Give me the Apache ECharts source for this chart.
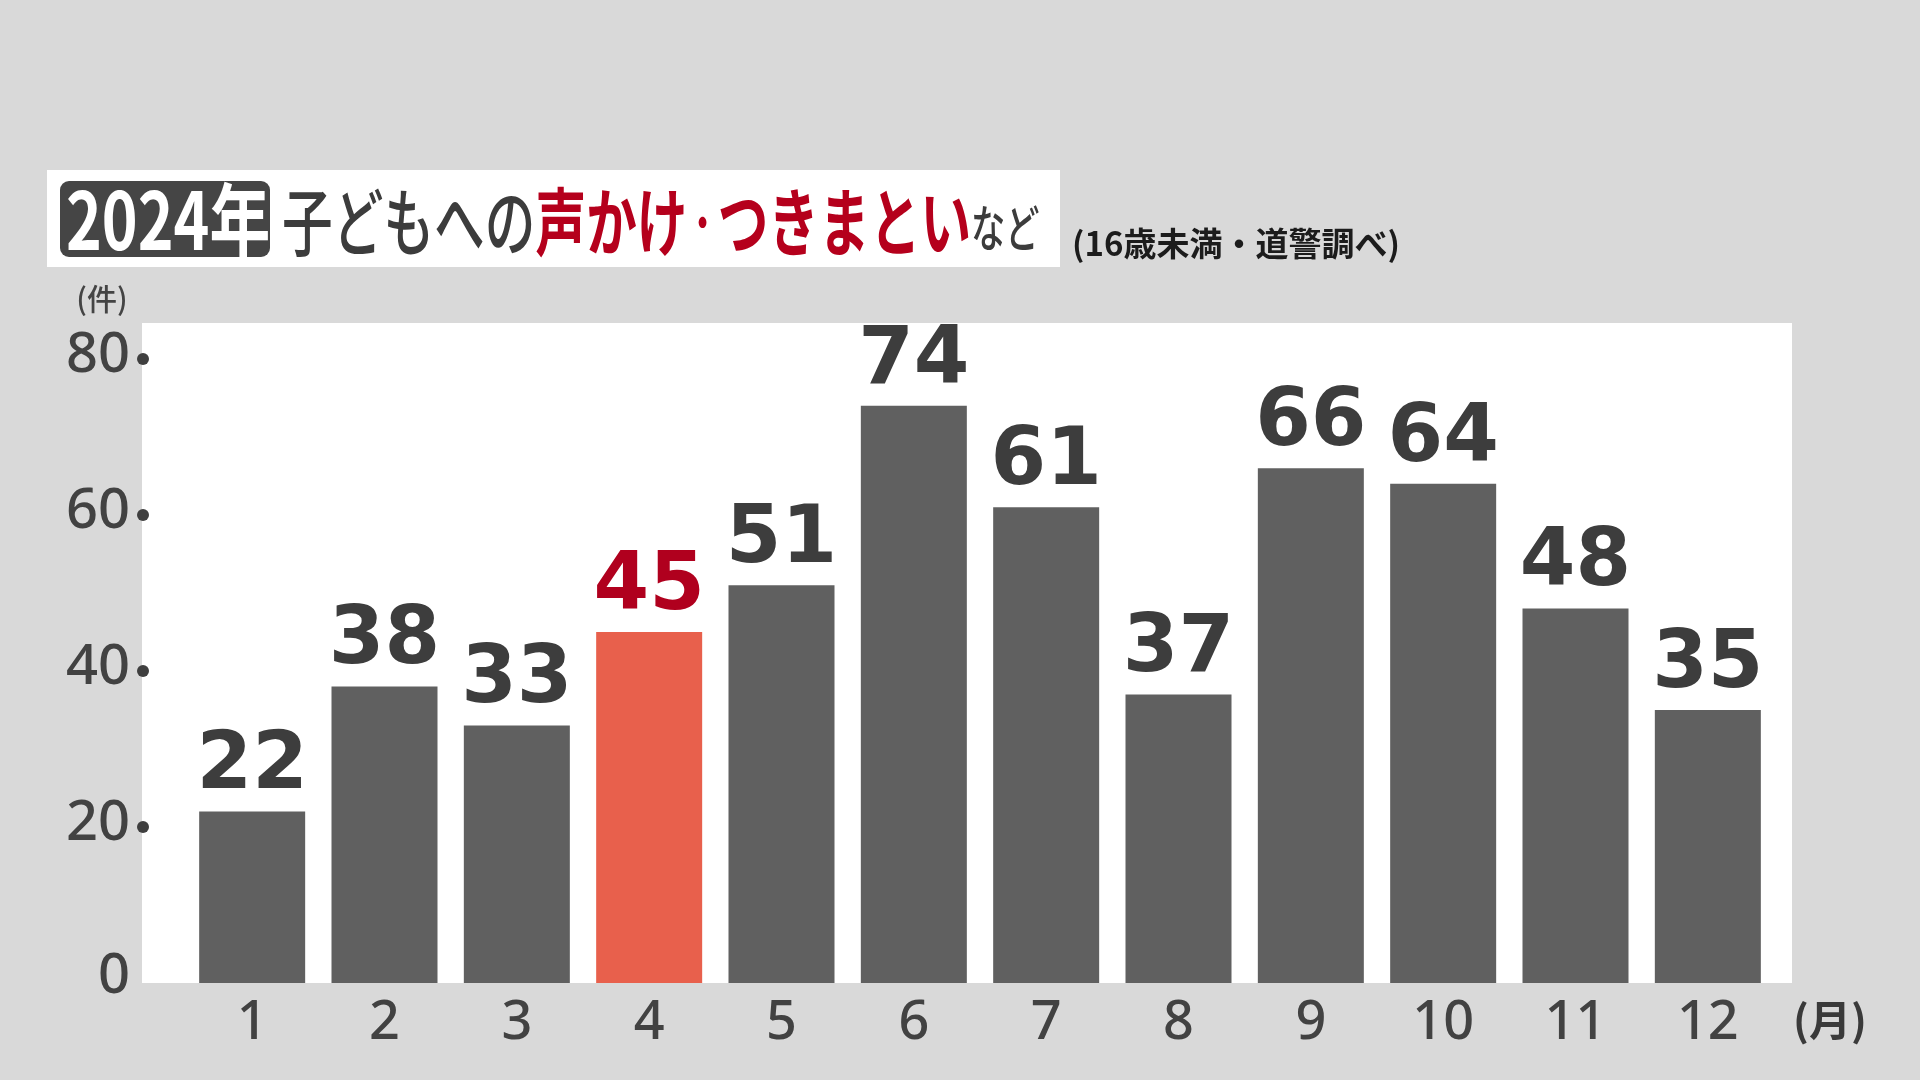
<!DOCTYPE html>
<html>
<head>
<meta charset="utf-8">
<script src="https://cdn.jsdelivr.net/npm/echarts@6/dist/echarts.min.js"></script>
<style>
html,body{margin:0;padding:0;background:#d9d9d9;}
#chart{width:1920px;height:1080px;}
</style>
</head>
<body>
<div id="chart"></div>
<script>
// ---- data ----
const months = ['1','2','3','4','5','6','7','8','9','10','11','12'];
const counts = [22, 38, 33, 45, 51, 74, 61, 37, 66, 64, 48, 35];
const highlightMonth = '4';
const yTicks = [0, 20, 40, 60, 80];
const titleYear = '2024年';
const titleLead = '子どもへの';
const titleKeyA = '声かけ';
const titleDot = '・';
const titleKeyB = 'つきまとい';
const titleTail = 'など';
const sourceNote = '(16歳未満・道警調べ)';
const yUnit = '(件)';
const xUnit = '(月)';

// ---- styles ----
const GRAY_BAR = '#606060';
const HI_BAR = '#e8604c';
const LABEL_DARK = '#3d3d3d';
const LABEL_RED = '#b0001e';
const AXIS_TEXT = '#424242';
const CJK = '"Noto Sans CJK JP", "Noto Sans", sans-serif';

const chart = echarts.init(document.getElementById('chart'), null, {renderer: 'canvas'});

const seriesData = counts.map((v, i) => {
  const isHi = months[i] === highlightMonth;
  return {
    value: v,
    itemStyle: {color: isHi ? HI_BAR : GRAY_BAR},
    label: {color: isHi ? LABEL_RED : LABEL_DARK}
  };
});

const option = {
  backgroundColor: '#d9d9d9',
  animation: false,
  grid: {left: 186, right: 146, top: 359, bottom: 97, containLabel: false},
  xAxis: {
    type: 'category',
    data: months,
    axisLine: {show: false},
    axisTick: {show: false},
    axisLabel: {
      fontSize: 54, lineHeight: 54, color: AXIS_TEXT, margin: 14,
      fontFamily: '"Noto Sans", sans-serif', fontWeight: 500
    },
    name: xUnit,
    nameLocation: 'end',
    nameGap: 19,
    nameTextStyle: {
      fontSize: 42, lineHeight: 42, color: '#3a3a3a', fontWeight: 'bold',
      fontFamily: CJK, verticalAlign: 'top', align: 'left', padding: [16, 0, 0, 0]
    }
  },
  yAxis: {
    type: 'value',
    min: yTicks[0],
    max: yTicks[yTicks.length - 1],
    interval: yTicks[1] - yTicks[0],
    axisLine: {show: false},
    axisTick: {show: false},
    splitLine: {show: false},
    axisLabel: {
      margin: 37,
      formatter: v => v === 0 ? `{z|${v}}{s|}{e|}` : `{v|${v}}{s|}{d|}`,
      rich: {
        v: {fontSize: 56, color: AXIS_TEXT, fontFamily: '"Noto Sans", sans-serif', fontWeight: 500, padding: [0, 0, 6, 0]},
        z: {fontSize: 56, color: AXIS_TEXT, fontFamily: '"Noto Sans", sans-serif', fontWeight: 500, padding: [0, 0, 12, 0]},
        s: {width: 7, height: 12},
        d: {width: 12, height: 12, backgroundColor: '#3f3f3f', borderRadius: 6},
        e: {width: 12, height: 12}
      }
    }
  },
  series: [{
    type: 'bar',
    data: seriesData,
    barWidth: 106,
    z: 5,
    label: {
      show: true,
      position: 'top',
      distance: 4,
      fontSize: 80,
      fontWeight: 'bold',
      fontFamily: '"DejaVu Sans", sans-serif',
      color: LABEL_DARK
    }
  }],
  graphic: [
    {type: 'rect', z: -10, silent: true,
     shape: {x: 142, y: 323, width: 1650, height: 660},
     style: {fill: '#ffffff'}},
    {type: 'rect', z: 1, silent: true,
     shape: {x: 47, y: 170, width: 1013, height: 97},
     style: {fill: '#ffffff'}},
    {type: 'rect', z: 2, silent: true,
     shape: {x: 60, y: 181, width: 210, height: 76, r: 9},
     style: {fill: '#454545'}},
    {type: 'text', z: 3, silent: true,
     x: 66, y: 220, scaleX: 0.76, scaleY: 1,
     style: {x: 0, y: 0, text: titleYear, fill: '#ffffff',
             font: 'bold 80px ' + CJK,
             align: 'left', verticalAlign: 'middle',
             textAlign: 'left', textVerticalAlign: 'middle'}},
    {type: 'text', z: 3, silent: true,
     x: 282, y: 222, scaleX: 0.685, scaleY: 1,
     style: {x: 0, y: 0,
             text: `{a|${titleLead}}{b|${titleKeyA}}{p|${titleDot}}{b|${titleKeyB}}{c|${titleTail}}`,
             align: 'left', verticalAlign: 'middle',
             textAlign: 'left', textVerticalAlign: 'middle',
             rich: {
               a: {fontSize: 74, fontWeight: 500, fontFamily: CJK, fill: '#3c3c3c', color: '#3c3c3c'},
               b: {fontSize: 74, fontWeight: 700, fontFamily: CJK, fill: '#b5001c', color: '#b5001c'},
               p: {fontSize: 44, fontWeight: 700, fontFamily: CJK, fill: '#b5001c', color: '#b5001c'},
               c: {fontSize: 50, fontWeight: 500, fontFamily: CJK, fill: '#3c3c3c', color: '#3c3c3c', verticalAlign: 'bottom', padding: [0, 0, 6, 0]}
             }}},
    {type: 'text', z: 3, silent: true,
     x: 1072, y: 243,
     style: {x: 0, y: 0, text: sourceNote, fill: '#1c1c1c',
             font: 'bold 33px ' + CJK,
             align: 'left', verticalAlign: 'middle',
             textAlign: 'left', textVerticalAlign: 'middle'}},
    {type: 'text', z: 3, silent: true,
     x: 102, y: 299,
     style: {x: 0, y: 0, text: yUnit, fill: '#444444',
             font: '500 30px ' + CJK,
             align: 'center', verticalAlign: 'middle',
             textAlign: 'center', textVerticalAlign: 'middle'}}
  ]
};

chart.setOption(option);
</script>
</body>
</html>
